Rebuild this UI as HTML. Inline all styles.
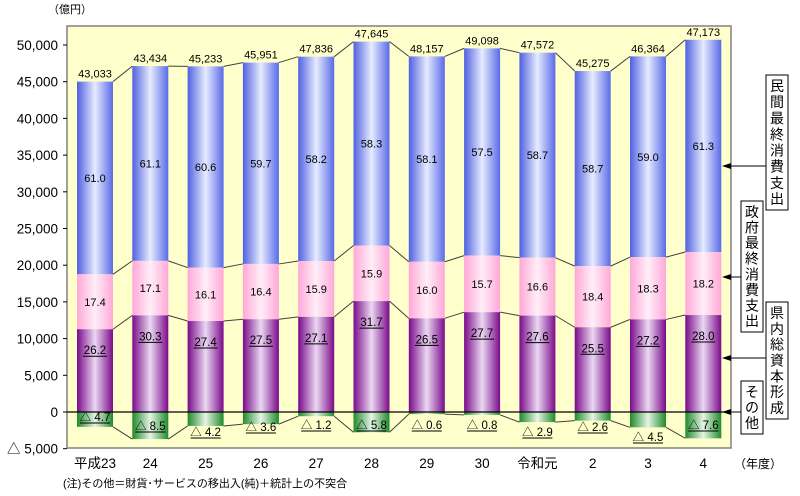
<!DOCTYPE html>
<html><head><meta charset="utf-8"><style>
html,body{margin:0;padding:0;background:#fff;}
svg{display:block;font-family:"Liberation Sans","Noto Sans CJK JP",sans-serif;}
</style></head><body>
<svg id="s" width="800" height="496" xmlns="http://www.w3.org/2000/svg">
<defs>
<linearGradient id="gb" x1="0" x2="1" y1="0" y2="0"><stop offset="0" stop-color="#5060e0"/><stop offset="0.5" stop-color="#e6ecff"/><stop offset="1" stop-color="#5a6ae8"/></linearGradient>
<linearGradient id="gp" x1="0" x2="1" y1="0" y2="0"><stop offset="0" stop-color="#ffa8d8"/><stop offset="0.5" stop-color="#ffeef8"/><stop offset="1" stop-color="#ffa8d8"/></linearGradient>
<linearGradient id="gv" x1="0" x2="1" y1="0" y2="0"><stop offset="0" stop-color="#7a0a8a"/><stop offset="0.5" stop-color="#ead8f2"/><stop offset="1" stop-color="#7a0a8a"/></linearGradient>
<linearGradient id="gg" x1="0" x2="1" y1="0" y2="0"><stop offset="0" stop-color="#1f8a2a"/><stop offset="0.5" stop-color="#e6f4e6"/><stop offset="1" stop-color="#1f8a2a"/></linearGradient>
</defs>
<rect x="67" y="26" width="664" height="422" fill="#ffffcc" stroke="#808080" stroke-width="1.5"/>
<g id="g"></g>
</svg>
<script>
var s=document.getElementById('g'),NS="http://www.w3.org/2000/svg";
function el(t,a,txt){var e=document.createElementNS(NS,t);for(var k in a)e.setAttribute(k,a[k]);if(txt!=null)e.textContent=txt;s.appendChild(e);return e;}
var Y0=412,K=367/50000;function y(v){return Y0-v*K;}
var yrs=["平成23","24","25","26","27","28","29","30","令和元","2","3","4"];
var T=[43033,43434,45233,45951,47836,47645,48157,49098,47572,45275,46364,47173];
var P=[61.0,61.1,60.6,59.7,58.2,58.3,58.1,57.5,58.7,58.7,59.0,61.3];
var G=[17.4,17.1,16.1,16.4,15.9,15.9,16.0,15.7,16.6,18.4,18.3,18.2];
var C=[26.2,30.3,27.4,27.5,27.1,31.7,26.5,27.7,27.6,25.5,27.2,28.0];
var O=[4.7,8.5,4.2,3.6,1.2,5.8,0.6,0.8,2.9,2.6,4.5,7.6];
var oy=[417,426,432,427,425,425,425,425,432,427,437,425];
for(var v=-5000;v<=50000;v+=5000){var yy=y(v);el('line',{x1:63,x2:67,y1:yy,y2:yy,stroke:'#000'});
var lab=v<0?'△ 5,000':v.toLocaleString('en-US');el('text',{x:58,y:yy+5,'text-anchor':'end','font-size':13.5},lab);}
el('text',{x:48,y:13,'font-size':11},'（億円）');
var W=36,prev=null;
for(var i=0;i<12;i++){var cx=95+i*55.3,x=cx-W/2,t=T[i];
var c=t*C[i]/100,g=t*G[i]/100,p=t*P[i]/100,o=-t*O[i]/100;
var b=[y(o),Y0,y(c),y(c+g),y(c+g+p)];
el('rect',{x:x,y:b[4],width:W,height:b[3]-b[4],fill:'url(#gb)'});
el('rect',{x:x,y:b[3],width:W,height:b[2]-b[3],fill:'url(#gp)'});
el('rect',{x:x,y:b[2],width:W,height:b[1]-b[2],fill:'url(#gv)'});
el('rect',{x:x,y:b[1],width:W,height:b[0]-b[1],fill:'url(#gg)'});
if(prev){for(var j=0;j<5;j++){if(j==1)continue;el('line',{x1:prev.x+W,x2:x,y1:prev.b[j],y2:b[j],stroke:'#404040','stroke-width':1});}}
prev={x:x,b:b};
el('text',{x:cx,y:b[4]-4,'text-anchor':'middle','font-size':11},t.toLocaleString('en-US'));
el('text',{x:cx,y:(b[3]+b[4])/2+4,'text-anchor':'middle','font-size':11},P[i].toFixed(1));
el('text',{x:cx,y:(b[2]+b[3])/2+4,'text-anchor':'middle','font-size':11},G[i].toFixed(1));
var cy=b[2]+25;el('text',{x:cx,y:cy,'text-anchor':'middle','font-size':11.5},C[i].toFixed(1));
el('line',{x1:cx-12,x2:cx+12,y1:cy+2,y2:cy+2,stroke:'#000'});
el('text',{x:cx,y:oy[i]+4,'text-anchor':'middle','font-size':11.5},'△ '+O[i].toFixed(1));
el('line',{x1:cx-15,x2:cx+15,y1:oy[i]+6,y2:oy[i]+6,stroke:'#000'});
el('text',{x:cx,y:468,'text-anchor':'middle','font-size':13.5},yrs[i]);}
el('line',{x1:67,x2:731,y1:Y0,y2:Y0,stroke:'#000','stroke-width':1.2});
el('text',{x:734,y:468,'font-size':12},'（年度）');
el('text',{x:63,y:487,'font-size':11},'(注)その他＝財貨･サービスの移出入(純)＋統計上の不突合');
function leg(x,y1,h,txt,ay){el('rect',{x:x,y:y1,width:22,height:h,fill:'#fff',stroke:'#000'});
var st=(h-6)/txt.length;
for(var k=0;k<txt.length;k++)el('text',{x:x+11,y:y1+3+st*(k+0.5)+5,'text-anchor':'middle','font-size':14},txt[k]);
el('line',{x1:x,x2:727,y1:ay,y2:ay,stroke:'#000'});el('polygon',{points:'722,'+ay+' 731,'+(ay-3)+' 731,'+(ay+3),fill:'#000'});}
leg(766,75,135,'民間最終消費支出',166);
leg(741,201,131,'政府最終消費支出',277);
leg(766,302,117,'県内総資本形成',358);
leg(741,381,53,'その他',412);
</script>
</body></html>
